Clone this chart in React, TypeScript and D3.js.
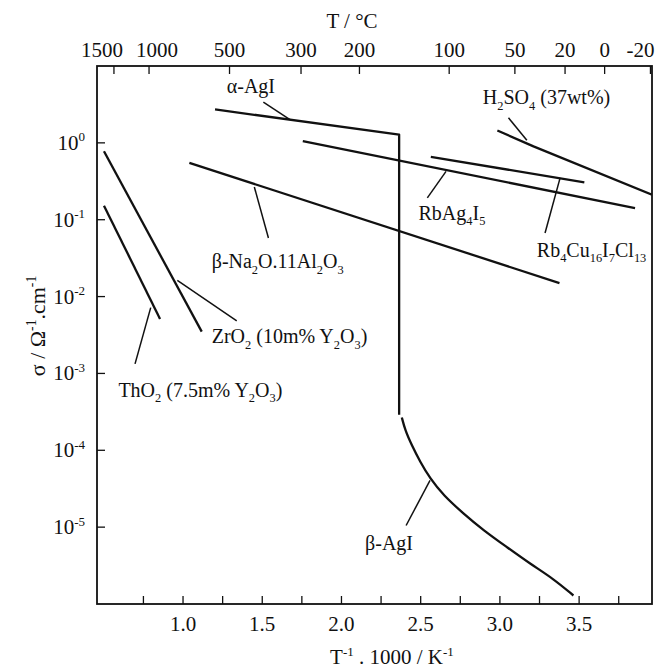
import React from "react";
import * as d3 from "d3";

// figure size and plot frame
const W = 656;
const H = 671;
const margin = { top: 66, right: 4, bottom: 67, left: 97 };
const font = "'Liberation Serif', 'Times New Roman', serif";

// axes: x = 1000/T (K^-1), y = conductivity (S/cm, log)
const xDomain = [0.457, 3.96];
const yDomain = [1e-6, 10];
const bottomTicks = [0.75, 1.0, 1.25, 1.5, 1.75, 2.0, 2.25, 2.5, 2.75, 3.0, 3.25, 3.5, 3.75];
const bottomLabels = [1.0, 1.5, 2.0, 2.5, 3.0, 3.5];
const topTicksC = [1500, 1000, 500, 300, 200, 100, 50, 20, 0, -20];
const leftTicks = [1, 1e-1, 1e-2, 1e-3, 1e-4, 1e-5];
const leftLabels = ["10^0", "10^{-1}", "10^{-2}", "10^{-3}", "10^{-4}", "10^{-5}"];

// series: [1000/T, sigma]
const alphaAgI = [[1.202, 2.72], [2.364, 1.28], [2.364, 2.9e-4]];
const betaAgI = [
  [2.381, 2.67e-4], [2.402, 1.82e-4], [2.444, 1.16e-4], [2.496, 7.1e-5],
  [2.559, 4.3e-5], [2.643, 2.6e-5], [2.77, 1.5e-5], [2.896, 9.1e-6],
  [3.044, 5.5e-6], [3.191, 3.33e-6], [3.338, 2.13e-6], [3.464, 1.29e-6],
];
const h2so4 = [[2.984, 1.45], [3.212, 0.9], [3.96, 0.212]];
const rbAg4I5 = [[1.756, 1.05], [3.853, 0.142]];
const rb4Cu = [[2.564, 0.657], [3.533, 0.306]];
const betaNa = [[1.04, 0.548], [3.376, 0.015]];
const zrO2 = [[0.501, 0.777], [1.118, 0.0035]];
const thO2 = [[0.501, 0.152], [0.855, 0.00512]];

// labels: text, anchor point, leader line (all in data units)
const labels = [
  { text: "α-AgI", at: [1.276, 4.39], leader: [[1.507, 3.38], [1.675, 2.01]] },
  { text: "β-Na_2O.11Al_2O_3", at: [1.181, 0.0234], leader: [[1.539, 0.0577], [1.45, 0.267]] },
  { text: "ZrO_2 (10m% Y_2O_3)", at: [1.181, 0.00247], leader: [[1.339, 0.00482], [0.964, 0.0162]] },
  { text: "ThO_2 (7.5m% Y_2O_3)", at: [0.592, 4.97e-4], leader: [[0.697, 0.00133], [0.796, 0.00719]] },
  { text: "H_2SO_4 (37wt%)", at: [2.892, 3.16], leader: [[3.054, 2.12], [3.17, 1.08]] },
  { text: "RbAg_4I_5", at: [2.486, 0.1], leader: [[2.542, 0.192], [2.66, 0.426]] },
  { text: "Rb_4Cu_{16}I_7Cl_{13}", at: [3.233, 0.0332], leader: [[3.285, 0.0671], [3.38, 0.35]] },
  { text: "β-AgI", at: [2.149, 4.99e-6], leader: [[2.408, 1.05e-5], [2.559, 4.07e-5]] },
];

// crowded top labels are pushed apart a little (px)
const topNudge: Record<number, number> = { 1500: -12, 1000: 8, "-20": -10 };

// tiny markup: _x or _{xx} subscript, ^x or ^{xx} superscript
function rich(s: string, fs: number) {
  const re = /([_^])(\{[^}]*\}|.)/g;
  const parts: { t: string; k: string }[] = [];
  let last = 0;
  let m;
  while ((m = re.exec(s))) {
    if (m.index > last) parts.push({ t: s.slice(last, m.index), k: "n" });
    let t = m[2];
    if (t[0] === "{") t = t.slice(1, -1);
    parts.push({ t, k: m[1] === "_" ? "sub" : "sup" });
    last = re.lastIndex;
  }
  if (last < s.length) parts.push({ t: s.slice(last), k: "n" });
  let off = 0;
  return parts.map((p, i) => {
    const target = p.k === "sub" ? fs * 0.28 : p.k === "sup" ? -fs * 0.4 : 0;
    const dy = target - off;
    off = target;
    return (
      <tspan key={i} dy={dy} fontSize={p.k === "n" ? fs : fs * 0.62}>
        {p.t}
      </tspan>
    );
  });
}

export default function App() {
  const x = d3.scaleLinear().domain(xDomain).range([margin.left, W - margin.right]);
  const y = d3.scaleLog().domain(yDomain).range([H - margin.bottom, margin.top]);
  const line = d3.line<number[]>().x((d) => x(d[0])).y((d) => y(d[1]));
  const smooth = d3
    .line<number[]>()
    .x((d) => x(d[0]))
    .y((d) => y(d[1]))
    .curve(d3.curveBasis);
  const xc = (c: number) => x(1000 / (c + 273.15));

  const x0 = margin.left;
  const x1 = W - margin.right;
  const y0 = margin.top;
  const y1 = H - margin.bottom;
  const tick = 8;
  const series = [alphaAgI, h2so4, rbAg4I5, rb4Cu, betaNa, zrO2, thO2];

  return (
    <div style={{ position: "absolute", left: 0, top: 0 }}>
      <svg width={W} height={H} style={{ display: "block", background: "#fff" }} fontFamily={font}>
        <defs>
          <clipPath id="plot">
            <rect x={x0} y={y0} width={x1 - x0} height={y1 - y0} />
          </clipPath>
        </defs>

        {/* frame */}
        <rect x={x0} y={y0} width={x1 - x0} height={y1 - y0} fill="none" stroke="#111" strokeWidth={1.8} />

        {/* bottom axis */}
        {bottomTicks.map((t) => (
          <line key={"b" + t} x1={x(t)} x2={x(t)} y1={y1} y2={y1 - tick} stroke="#111" strokeWidth={1.3} />
        ))}
        {bottomLabels.map((t) => (
          <text key={"bl" + t} x={x(t)} y={631} textAnchor="middle" fontSize={21} fill="#111">
            {d3.format(".1f")(t)}
          </text>
        ))}
        <text x={392} y={664} textAnchor="middle" fill="#111">
          {rich("T^{-1} . 1000 / K^{-1}", 21)}
        </text>

        {/* top axis (°C) */}
        {topTicksC.map((c) => (
          <line key={"t" + c} x1={xc(c)} x2={xc(c)} y1={y0} y2={y0 + tick} stroke="#111" strokeWidth={1.3} />
        ))}
        {topTicksC.map((c) => (
          <text key={"tl" + c} x={xc(c) + (topNudge[c] || 0)} y={57} textAnchor="middle" fontSize={21} fill="#111">
            {c}
          </text>
        ))}
        <text x={352} y={28} textAnchor="middle" fontSize={21} fill="#111">
          T / °C
        </text>

        {/* left axis */}
        {leftTicks.map((t) => (
          <line key={"l" + t} x1={x0} x2={x0 + tick} y1={y(t)} y2={y(t)} stroke="#111" strokeWidth={1.3} />
        ))}
        {leftTicks.map((t, i) => (
          <text key={"ll" + t} x={85} y={y(t) + 7} textAnchor="end" fill="#111">
            {rich(leftLabels[i], 21)}
          </text>
        ))}
        <text transform={`translate(45,326) rotate(-90)`} textAnchor="middle" fill="#111">
          {rich("σ / Ω^{-1}.cm^{-1}", 22)}
        </text>

        {/* data */}
        <g clipPath="url(#plot)" fill="none" stroke="#111" strokeWidth={2.3} strokeLinejoin="round">
          {series.map((s, i) => (
            <path key={i} d={line(s) || ""} />
          ))}
          <path d={smooth(betaAgI) || ""} />
        </g>

        {/* annotations */}
        {labels.map((l) => (
          <g key={l.text}>
            <path d={line(l.leader) || ""} stroke="#111" strokeWidth={1.5} fill="none" />
            <text x={x(l.at[0])} y={y(l.at[1])} fill="#111">
              {rich(l.text, 20)}
            </text>
          </g>
        ))}
      </svg>
    </div>
  );
}
